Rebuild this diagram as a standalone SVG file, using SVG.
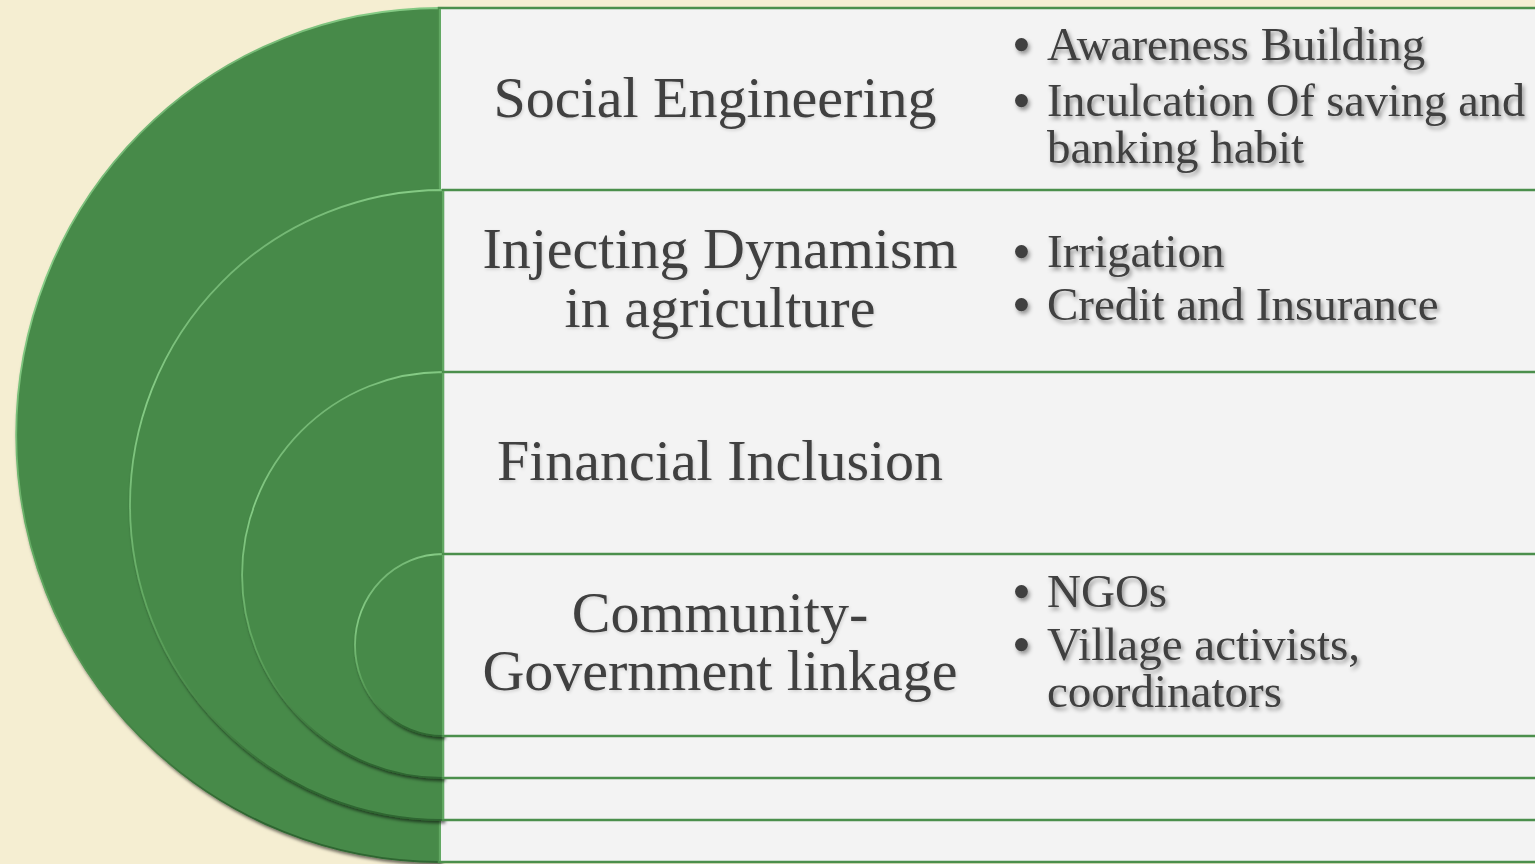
<svg xmlns="http://www.w3.org/2000/svg" width="1535" height="864" viewBox="0 0 1535 864">
<defs>
<filter id="discShadow" x="-10%" y="-10%" width="130%" height="130%">
<feDropShadow dx="1.5" dy="2.5" stdDeviation="1.8" flood-color="#000" flood-opacity="0.55"/>
</filter>
<filter id="txtShadow" x="-10%" y="-20%" width="130%" height="150%">
<feDropShadow dx="2" dy="3" stdDeviation="2.2" flood-color="#000" flood-opacity="0.4"/>
</filter>
<filter id="titleShadow" x="-10%" y="-20%" width="130%" height="150%">
<feDropShadow dx="1" dy="1.5" stdDeviation="1.5" flood-color="#000" flood-opacity="0.15"/>
</filter>
<linearGradient id="rim" x1="0" y1="0" x2="0.4" y2="1">
<stop offset="0" stop-color="#3d7a3e"/>
<stop offset="0.3" stop-color="#86cc86"/>
<stop offset="0.6" stop-color="#5fa65f"/>
<stop offset="1" stop-color="#2f6630"/>
</linearGradient>
</defs>
<style>
.disc{fill:#478a49;stroke:url(#rim);stroke-width:1.8;filter:url(#discShadow)}
.box{fill:#f3f3f3;stroke:#4b8f4c;stroke-width:2.5}
.edge{stroke:#62a863;stroke-width:2}
.title{font-family:"Liberation Serif","Times New Roman",serif;font-size:58px;fill:#404040;text-anchor:middle;filter:url(#titleShadow)}
.item{font-family:"Liberation Serif","Times New Roman",serif;font-size:47px;fill:#404040;filter:url(#txtShadow)}
.dot{font-size:54px}
</style>
<rect x="0" y="0" width="1535" height="864" fill="#f5eed2"/>

<g id="node-social-engineering">
<path class="disc" d="M440 8 A424 427 0 0 0 440 862 Z"/>
<rect class="box" x="439" y="8" width="1110" height="854"/>
<line class="edge" x1="440" y1="9" x2="440" y2="861"/>
<text class="title" x="715" y="117">Social Engineering</text>
<text class="item" y="60"><tspan class="dot" x="1012" dy="3">•</tspan><tspan x="1047" dy="-3">Awareness Building</tspan></text>
<text class="item" y="116"><tspan class="dot" x="1012" dy="3">•</tspan><tspan x="1047" dy="-3" textLength="478" lengthAdjust="spacingAndGlyphs">Inculcation Of saving and</tspan></text>
<text class="item" x="1047" y="163">banking habit</text>
</g>

<g id="node-injecting-dynamism">
<path class="disc" d="M443 190 A313 315 0 0 0 443 820 Z"/>
<rect class="box" x="443" y="190" width="1110" height="630"/>
<line class="edge" x1="443" y1="191" x2="443" y2="819"/>
<text class="title" x="720" y="268">Injecting Dynamism</text>
<text class="title" x="720" y="327">in agriculture</text>
<text class="item" y="267"><tspan class="dot" x="1012" dy="3">•</tspan><tspan x="1047" dy="-3">Irrigation</tspan></text>
<text class="item" y="320"><tspan class="dot" x="1012" dy="3">•</tspan><tspan x="1047" dy="-3">Credit and Insurance</tspan></text>
</g>

<g id="node-financial-inclusion">
<path class="disc" d="M443 372 A201 203 0 0 0 443 778 Z"/>
<rect class="box" x="443" y="372" width="1110" height="406"/>
<line class="edge" x1="443" y1="373" x2="443" y2="777"/>
<text class="title" x="720" y="480">Financial Inclusion</text>
</g>

<g id="node-community-government">
<path class="disc" d="M443 554 A88 91 0 0 0 443 736 Z"/>
<rect class="box" x="443" y="554" width="1110" height="182"/>
<line class="edge" x1="443" y1="555" x2="443" y2="735"/>
<text class="title" x="720" y="632">Community-</text>
<text class="title" x="720" y="690">Government linkage</text>
<text class="item" y="607"><tspan class="dot" x="1012" dy="3">•</tspan><tspan x="1047" dy="-3">NGOs</tspan></text>
<text class="item" y="660"><tspan class="dot" x="1012" dy="3">•</tspan><tspan x="1047" dy="-3">Village activists,</tspan></text>
<text class="item" x="1047" y="707">coordinators</text>
</g>

<g id="connectors"></g>
</svg>
